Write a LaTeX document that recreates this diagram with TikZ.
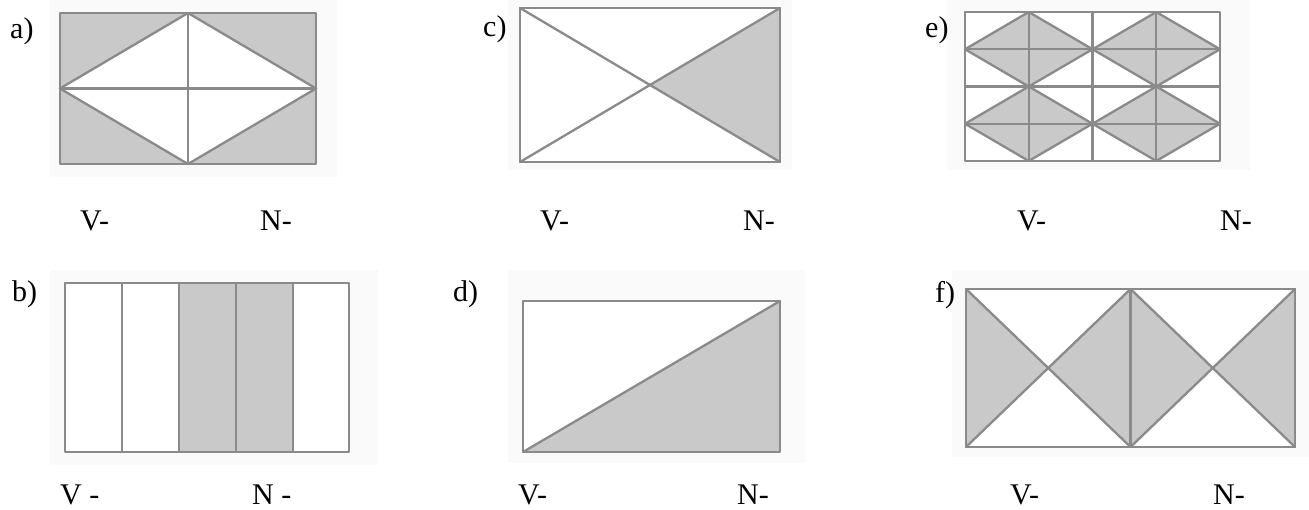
\documentclass[tikz,border=0pt]{standalone}
\usepackage{fontspec}
\setmainfont{Liberation Serif}
\definecolor{linegray}{HTML}{8A8A8A}
\definecolor{shadegray}{HTML}{C9C9C9}
\definecolor{scanbg}{HTML}{FAFAFA}
\newcommand{\lbfont}{\fontsize{30}{36}\selectfont}
\begin{document}
\begin{tikzpicture}[x=1pt,y=-1pt,
  fig/.style={draw=linegray, line width=2.3pt, line join=round, line cap=round},
  shadefill/.style={fill=shadegray},
  scan/.style={fill=scanbg},
  lbl/.style={anchor=base west, inner sep=0pt, font=\lbfont}]
\useasboundingbox (0,0) rectangle (1309,510);
\fill[white] (0,0) rectangle (1309,510);
% scanned backgrounds
\fill[scan] (50,0) rectangle (337,177);
\fill[scan] (508,0) rectangle (792,170);
\fill[scan] (947,0) rectangle (1250,170);
\fill[scan] (50,270) rectangle (378,465);
\fill[scan] (508,270) rectangle (805,463);
\fill[scan] (952,270) rectangle (1309,457);

% ---------- a) ----------
\fill[shadefill] (60,13) rectangle (316,164);
\fill[white] (188,13) -- (316,88.5) -- (188,164) -- (60,88.5) -- cycle;
\draw[fig] (60,13) rectangle (316,164);
\draw[fig] (188,13) -- (316,88.5) -- (188,164) -- (60,88.5) -- cycle;
\draw[fig] (188,13) -- (188,164);
\draw[fig] (60,88.5) -- (316,88.5);
\node[lbl] (la) at (10,39) {a)};
\node[lbl] (av) at (80,231) {V-};
\node[lbl] (an) at (260,231) {N-};

% ---------- c) ----------
\fill[white] (520,8) rectangle (780,162);
\fill[shadefill] (650,85) -- (780,8) -- (780,162) -- cycle;
\draw[fig] (520,8) rectangle (780,162);
\draw[fig] (520,8) -- (780,162);
\draw[fig] (520,162) -- (780,8);
\node[lbl] (lc) at (483,37) {c)};
\node[lbl] (cv) at (540,231) {V-};
\node[lbl] (cn) at (743,231) {N-};

% ---------- e) ----------
\fill[white] (965,12) rectangle (1220,161);
\foreach \cx in {1028.75,1156.25}{
  \foreach \cy/\t/\b in {49.25/12/86.5, 123.75/86.5/161}{
    \fill[shadefill] (\cx,\t) -- (\cx+63.75,\cy) -- (\cx,\b) -- (\cx-63.75,\cy) -- cycle;
    \draw[fig] (\cx,\t) -- (\cx+63.75,\cy) -- (\cx,\b) -- (\cx-63.75,\cy) -- cycle;
  }
}
\foreach \gx in {1028.75,1092.5,1156.25}{\draw[fig] (\gx,12) -- (\gx,161);}
\foreach \gy in {49.25,86.5,123.75}{\draw[fig] (965,\gy) -- (1220,\gy);}
\draw[fig] (965,12) rectangle (1220,161);
\node[lbl] (le) at (925,38) {e)};
\node[lbl] (ev) at (1017,231) {V-};
\node[lbl] (en) at (1220,231) {N-};

% ---------- b) ----------
\fill[white] (65,283) rectangle (349,452);
\fill[shadefill] (179,283) rectangle (293,452);
\draw[fig] (65,283) rectangle (349,452);
\foreach \bx in {122,179,236,293}{\draw[fig] (\bx,283) -- (\bx,452);}
\node[lbl] (lb) at (12,302) {b)};
\node[lbl] (bv) at (60,504) {V -};
\node[lbl] (bn) at (252,504) {N -};

% ---------- d) ----------
\fill[white] (523,301) rectangle (780,452);
\fill[shadefill] (523,452) -- (780,301) -- (780,452) -- cycle;
\draw[fig] (523,301) rectangle (780,452);
\draw[fig] (523,452) -- (780,301);
\node[lbl] (ld) at (453,302) {d)};
\node[lbl] (dv) at (518,504) {V-};
\node[lbl] (dn) at (737,504) {N-};

% ---------- f) ----------
\fill[white] (966,289) rectangle (1295,447);
\fill[shadefill] (966,289) -- (1048.25,368) -- (966,447) -- cycle;
\fill[shadefill] (1130.5,289) -- (1048.25,368) -- (1130.5,447) -- cycle;
\fill[shadefill] (1130.5,289) -- (1212.75,368) -- (1130.5,447) -- cycle;
\fill[shadefill] (1295,289) -- (1212.75,368) -- (1295,447) -- cycle;
\draw[fig] (966,289) rectangle (1295,447);
\draw[fig] (1130.5,289) -- (1130.5,447);
\draw[fig] (966,289) -- (1130.5,447);
\draw[fig] (966,447) -- (1130.5,289);
\draw[fig] (1130.5,289) -- (1295,447);
\draw[fig] (1130.5,447) -- (1295,289);
\node[lbl] (lf) at (935,303) {f)};
\node[lbl] (fv) at (1010,504) {V-};
\node[lbl] (fn) at (1213,504) {N-};
\end{tikzpicture}
\end{document}
